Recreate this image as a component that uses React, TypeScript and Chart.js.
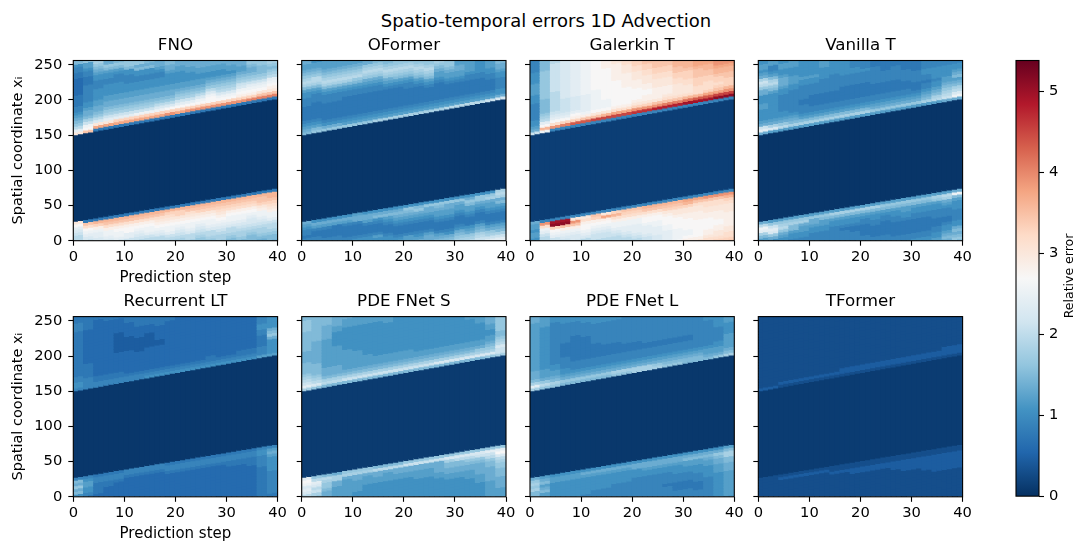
import React, { useEffect, useRef } from "react";
import { Chart, registerables } from "chart.js";

Chart.register(...registerables);

// Each string is read for two neighbouring prediction steps, from x=0 to x=40.
// Each character is a relative-error level in base 36, in units of LEVEL_STEP, one per CELL_HEIGHT.
// *_LOW ends at the lower wave edge, *_HIGH starts at the upper wave edge.
// *_CORE is the value inside the travelling wave, between the two edges.
const LEVEL_STEP = 0.15;
const CELL_HEIGHT = 4;
const Y_MAX = 256;
const X_MAX = 40;
const COLOR_MAX = 5.38;

// The wave edges read at each of the 40 prediction steps
const LOWER_EDGE = [27.6,28.8,30,31.2,32.4,33.6,34.8,36,37.2,38.4,39.6,40.8,42,43.2,44.4,45.6,46.8,48,49.2,50.4,51.6,52.8,54,55.2,56.4,57.6,58.8,60,61.2,62.4,63.6,64.8,66,67.2,68.4,69.6,70.8,72,73.2,74.4];
const UPPER_EDGE = [150.6,151.9,153.2,154.5,155.8,157.2,158.5,159.8,161.1,162.4,163.7,165,166.3,167.6,168.9,170.2,171.5,172.8,174.1,175.4,176.7,178,179.3,180.6,181.9,183.2,184.5,185.8,187.1,188.4,189.7,191,192.3,193.6,194.9,196.2,197.5,198.8,200.1,201.4];

const FNO_LOW = ["ddefgik","efghiln5","fgghjmo5","fghhjlno5","eghhijlno5","eggiijlno5","defghijlno5","deghhijlno5","ddfghijklno5","cdeghhijklmo5","cdefghijkmmo5","cddfghhijklno5","bcdefghijkmno5","bcddfghhijkmno5","bccdefghijklmno5","abcddfghhijlmno5","abccdefghhijlmno5","aabcdeffghijlmno5","9abccdefghhjkmnno5","9aabcddeghhjklmnoo5"];
const FNO_HIGH = ["kgdba98766555544444455667a","niheca9987766666655566788b","5pkfdba998877776667789abc","5pkgecba9988777766778ab9","5pmgecba9988777766678aba","5pmgecba998877766677abb","5pmhecba99887776677a9b","5pmhecba99887776677a9a","5pmhfdba9988777667899","5qmifdba99887777899a","5pmigecba98877778899","5qmigecba9887778899","5qmihfdba988778899","5qmiihfdba98778899","5qmihfdcba9877889","5qmihfdcba987889","5qmjihfecba98899","5rmjihgecba99ab","5rnkihgecbaaab","5rnkjihgdcbabc"];
const FNO_CORE = 0.04;

const OFORMER_LOW = ["6566789","66556897","65556897","665555897","6655556897","7655556998","77655568997","78655567a97","776555678a97","8765556789a97","8865556789ab7","98765556789ba7","998655567899b7","a98655567889ab7","ba976555678899b7","cba97655567889b7","dcb9875556788ab97","edca9865556789bb7","gecb98655567889cb7","hgeca986555678a9cdc"];
const OFORMER_HIGH = ["a987655555666778acdcba9889","ba87655555566678acddba9887","b97655555566678acdcba9888","b97655555566678acdcba988","b87655555556678acdcba988","b87655555556678abdcba98","b876555555566789bcdcb9","c876555555566789bcdcba","c87655555556789bcdcba","c8765555555678abcdcb","c8765555556678abcdcb","c876555555678abcdcb","c87655555678abcdcb","c87655555567889abc","d8765555567889abb","d876555556788998","d876555556678888","d87655555667777","e8765555667788","f977666677899a"];
const OFORMER_CORE = 0.06;

const GALERKIN_LOW = ["7887889","ddeghlq6","eghimyx6","efghjnyx6","effghjnqk6","dfghiijlk6","deefghijmn6","deefghijpk6","ddefghhjlom6","ddefgghhjlmn6","defggghhjlmn6","eefggghiijlno6","ffggghhiijlno6","gggghhiiijkmno6","ihhhhiiiijkkmno6","jihhiiiijjkkmop6","kjiiiiiijjjkklnp6","lkjjiiiijjkkllnq6","mlkkjjiijjjkkllnq6","nmllkkjjjjjkkklmoq6"];
const GALERKIN_HIGH = ["e9877666666777888877776666","hoigdcbaaaaabbbbbbbbbbaaaa","6qligfedddddddeeeeeeeeeed","6rmigfeeeeefffffffffffff","6tmjigfffffggggggggggggg","6tnjhgggggghhhhhhhhhhhh","6unkihhhhhhhiiiiiiiiii","6uokihhhiiiiiiiiiiijjj","6upljiiiiiiiiijjjjjjk","6upljiiiiiijjjjjkkkl","6vqmkjiiiijjjkkkllmm","6vqmkjjiijjkkkllmmn","6wqnkjjjjkkkllmmnn","6wrnlkjjjkkkllmmnn","6wrnlkkkkllmmnnoo","6xsolkkkllmmmnoo","6xtolllmmmnnnopp","6xtpmlllmmnnoop","6yupnmlmmnoopq","6yuqommmnnoopq"];
const GALERKIN_CORE = 0.14;

const VANILLA_LOW = ["8acghd9","79bfgeb8","789bdcb8","6778aacb8","6677889cb8","66677899b8","66667788ab8","66666778ac8","666656778ac8","6666556778ac8","6655556678ac8","66555566778ac8","66555556678ab8","665555566778ab8","6665555567788ab8","7665555566778ab8","77665555566778ab8","87766555666778bc8","9a9877655666789cd8","9ba9a97766667778ah9"];
const VANILLA_HIGH = ["9ge9877778877799bdec987887","8fc987777777778abdca876688","8db9877666666778999877887","8ca987666666667788877788","8ca876665566666778777777","8ca87665555666677877777","8ca8766555566666777788","8ca8766555566666677777","8ca876655555666677777","8ca87665555566667766","8ca87665555566667666","8b98766555566666655","8b9876655556666555","8b9876655556666655","8b987665556666555","8b98765556666555","8ca9876656677666","8dca98776777766","9edcba98877776","9hfdca98a98776"];
const VANILLA_CORE = 0.05;

const RECURRENT_LOW = ["7a9b9a6","56778876","45555665","444455665","4444445665","4444444566","44444444566","44444444566","444444444566","4444444445665","4444444445665","44444444445665","44444444445665","444444444445665","4444444444445665","4444444444455665","44444444444455665","44444444444555665","555555555556666776","5566666666777778986"];
const RECURRENT_HIGH = ["67766555555555555555566655","66665555544444444444455555","6655444444444444444444445","665544444444444444444445","665544444443333333444445","66544444444333334444455","6654444444333334444555","7654444444433333444555","765444444443344444555","76544444444444444445","76544444444444444444","7654444444444444444","765444444444444444","765544444444444444","76544444444444444","7654444444444444","7655444444444444","765544444444444","86665555667766","8777779ba97777"];
const RECURRENT_CORE = 0.07;

const FNET_S_LOW = ["dfgfhig","bcedfgdb","99abbcda","888899cc9","88888889cb","77888899cb","777778889cb","777778899da","7777778889da","77777778899da","77777778899eb","777777788899eb","777777788899eb","7777777889999eb","77777778899aacfb","77777778899aadfb","777777788899abdfb","777778889999abefb","88888899999aabdegb","88889999aaabbcdfigb"];
const FNET_S_HIGH = ["cgedcbaaaa9999aaaaaaabbbba","bfdcbaaaa99999999aaaaaaaaa","adca999888888888899999aaa","adca99988888887777788999","aeca98888888777777778889","aeca9888888777777777888","aeca988887777777777788","aeca988877777777777788","aeca98887777777777788","aeca9888777777777777","aeca9888777777777777","aeca988777777777777","aeca98877777777777","afca98877777777777","afca9887777777777","afca988777777777","afca988777777778","afcb98877777788","bfcba988778899","ceefdcbaabbbbb"];
const FNET_S_CORE = 0.11;

const FNET_L_LOW = ["aacbcb9","88a98a98","77777887","777777887","7777777887","6777777897","66677777897","66677777897","666667777897","6666667777897","6666666777997","66666666778997","66666666778997","666656666778997","6665556667778997","6665556667788a97","66655566677788a97","66666667777889a97","77777777788899ab97","7888888888999aacca8"];
const FNET_L_HIGH = ["cgca9998888888888888888899","bdb98887777777777777778888","bca9887766666666666666677","ab9877666655555666666677","ab9876665555555556666677","ab987666555555556666677","ab98766655555666666677","ab98766655556666666677","bc9876665555666666667","bc987666555666666666","cc987666555666666666","cc98766655666666666","cb9876665566666666","ba9876665566666666","ba987666556666666","aa98766655666666","aa98766666666666","a98876666666667","b9887766666777","ca988888777788"];
const FNET_L_CORE = 0.08;

const TFORMER_LOW = ["2222222","22222222","22222232","222222232","2222222232","2222222232","22222222232","22222222322","222222222322","2222222223322","2222222223322","22222222223322","22222222223322","222222222233322","2222222222333322","2222222222333322","22222222223333322","22222222233333322","222222222233333322","2222222222233333322"];
const TFORMER_HIGH = ["32222222222222222222222222","32222222222222222222222222","2322222222222222222222222","232222222222222222222222","232222222222222222222222","23222222222222222222222","2322222222222222222222","2322222222222222222222","233222222222222222222","23322222222222222222","23322222222222222222","2332222222222222222","233222222222222222","233222222222222222","23322222222222222","2332222222222222","2332222222222222","233222222222222","23332222222222","23332222222222"];
const TFORMER_CORE = 0.12;

const PANEL_TITLES = ["FNO", "OFormer", "Galerkin T", "Vanilla T", "Recurrent LT", "PDE FNet S", "PDE FNet L", "TFormer"];
const PANEL_LOWS = [FNO_LOW, OFORMER_LOW, GALERKIN_LOW, VANILLA_LOW, RECURRENT_LOW, FNET_S_LOW, FNET_L_LOW, TFORMER_LOW];
const PANEL_HIGHS = [FNO_HIGH, OFORMER_HIGH, GALERKIN_HIGH, VANILLA_HIGH, RECURRENT_HIGH, FNET_S_HIGH, FNET_L_HIGH, TFORMER_HIGH];
const PANEL_CORES = [FNO_CORE, OFORMER_CORE, GALERKIN_CORE, VANILLA_CORE, RECURRENT_CORE, FNET_S_CORE, FNET_L_CORE, TFORMER_CORE];

const FIGURE_TITLE = "Spatio-temporal errors 1D Advection";
const X_TITLE = "Prediction step";
const Y_TITLE = "Spatial coordinate xᵢ";
const COLORBAR_TITLE = "Relative error";

// RdBu reversed: anchor colours of the colour map
const RDBU_R: number[][] = [
  [5, 48, 97], [33, 102, 172], [67, 147, 195], [146, 197, 222], [209, 229, 240], [247, 247, 247],
  [253, 219, 199], [244, 165, 130], [214, 96, 77], [178, 24, 43], [103, 0, 31],
];

function colorOf(v: number): string {
  const p = Math.max(0, Math.min(0.99999, v / COLOR_MAX)) * (RDBU_R.length - 1);
  const i = Math.floor(p);
  const f = p - i;
  const a = RDBU_R[i];
  const b = RDBU_R[i + 1];
  const c = [0, 1, 2].map((k) => Math.round(a[k] + (b[k] - a[k]) * f));
  return `rgb(${c[0]},${c[1]},${c[2]})`;
}

const FONT = "'DejaVu Sans'";
const TICK_PX = 14.7;
const AXIS_TITLE_PX = 15;
const Y_TITLE_PX = 14.5;
const TITLE_PX = 16.7;
const AX_LEFT = [73.3, 301.7, 530, 758.3];
const AX_TOP = [60.5, 316.6];
const AX_W = 204.3;
const AX_H = 180.2;

const framePlugin = {
  id: "frame",
  afterDatasetsDraw(chart: any) {
    const { left, top, width, height } = chart.chartArea;
    const ctx = chart.ctx;
    ctx.save();
    ctx.strokeStyle = "#000";
    ctx.lineWidth = 1.1;
    ctx.strokeRect(left, top, width, height);
    ctx.restore();
  },
};

const colorbarLabelPlugin = {
  id: "colorbarLabel",
  afterDraw(chart: any) {
    const ctx = chart.ctx;
    ctx.save();
    ctx.translate(70, 236);
    ctx.rotate(-Math.PI / 2);
    ctx.fillStyle = "#000";
    ctx.font = `12.5px ${FONT}`;
    ctx.textAlign = "center";
    ctx.textBaseline = "middle";
    ctx.fillText(COLORBAR_TITLE, 0, 0);
    ctx.restore();
  },
};

function buildCells(low: string[], high: string[], core: number) {
  const cells: { x: number; y: number[] }[] = [];
  const colors: string[] = [];
  const add = (x: number, y0: number, y1: number, v: number) => {
    cells.push({ x, y: [y0, y1] });
    colors.push(colorOf(v));
  };
  LOWER_EDGE.forEach((edgeLow, step) => {
    const x = step + 0.5;
    const edgeHigh = UPPER_EDGE[step];
    const lo = low[Math.floor(step / 2)];
    const hi = high[Math.floor(step / 2)];
    [...lo].forEach((ch, i) => {
      const y1 = edgeLow - (lo.length - 1 - i) * CELL_HEIGHT;
      if (y1 <= 0) return;
      const y0 = i === 0 ? 0 : Math.max(0, y1 - CELL_HEIGHT);
      add(x, y0, y1, parseInt(ch, 36) * LEVEL_STEP);
    });
    add(x, edgeLow, edgeHigh, core);
    [...hi].forEach((ch, i) => {
      const y0 = edgeHigh + i * CELL_HEIGHT;
      if (y0 >= Y_MAX) return;
      const y1 = i === hi.length - 1 ? Y_MAX : Math.min(Y_MAX, y0 + CELL_HEIGHT);
      add(x, y0, y1, parseInt(ch, 36) * LEVEL_STEP);
    });
  });
  return { cells, colors };
}

function Panel({ index }: { index: number }) {
  const ref = useRef<HTMLCanvasElement | null>(null);
  const col = index % 4;
  const row = Math.floor(index / 4);
  const axL = AX_LEFT[col];
  const axT = AX_TOP[row];
  const canvasLeft = Math.floor(axL - 69.3);
  const canvasTop = Math.floor(axT - 26);
  const canvasW = 291;
  const canvasH = 253;
  useEffect(() => {
    const { cells, colors } = buildCells(PANEL_LOWS[index], PANEL_HIGHS[index], PANEL_CORES[index]);
    const yW = axL - canvasLeft;
    const titleH = axT - canvasTop;
    const xH = canvasH - titleH - AX_H;
    const tickGrid = { display: true, drawOnChartArea: false, drawTicks: true, tickLength: 5, tickColor: "#000", tickWidth: 1.1 };
    const chart = new Chart(ref.current as HTMLCanvasElement, {
      type: "bar",
      data: {
        datasets: [{
          label: PANEL_TITLES[index],
          data: cells as any,
          backgroundColor: colors,
          borderWidth: 0,
          inflateAmount: 0.5,
          barPercentage: 1,
          categoryPercentage: 1,
        } as any],
      },
      options: {
        responsive: false,
        animation: false,
        events: [],
        layout: { padding: { left: 0, top: 0, bottom: 0, right: canvasW - yW - AX_W } },
        plugins: {
          legend: { display: false },
          tooltip: { enabled: false },
          title: {
            display: true,
            text: PANEL_TITLES[index],
            fullSize: false,
            color: "#000",
            font: { family: FONT, size: TITLE_PX, weight: "normal", lineHeight: 1.2 },
            padding: { top: 1.5, bottom: titleH - TITLE_PX * 1.2 - 1.5 },
          },
        },
        scales: {
          x: {
            type: "linear",
            min: 0,
            max: X_MAX,
            offset: false,
            grid: { ...tickGrid, offset: false },
            border: { display: false },
            ticks: { stepSize: 10, autoSkip: false, maxRotation: 0, color: "#000", padding: 3, font: { family: FONT, size: TICK_PX } },
            title: {
              display: col === 0,
              text: X_TITLE,
              color: "#000",
              padding: { top: 0, bottom: 0 },
              font: { family: FONT, size: AXIS_TITLE_PX, lineHeight: 1.2 },
            },
            afterFit: (s: any) => { s.height = xH; },
          },
          y: {
            type: "linear",
            min: 0,
            max: Y_MAX,
            grid: tickGrid,
            border: { display: false },
            ticks: { display: col === 0, stepSize: 50, includeBounds: false, autoSkip: false, color: "#000", padding: 6, font: { family: FONT, size: TICK_PX } },
            title: {
              display: col === 0,
              text: Y_TITLE,
              color: "#000",
              padding: { top: 6, bottom: 0 },
              font: { family: FONT, size: Y_TITLE_PX, lineHeight: 1.2 },
            },
            afterFit: (s: any) => { s.width = yW; },
          },
        },
      } as any,
      plugins: [framePlugin],
    });
    return () => chart.destroy();
  }, []);
  return (
    <canvas
      ref={ref}
      width={canvasW}
      height={canvasH}
      style={{ position: "absolute", left: canvasLeft, top: canvasTop, width: canvasW, height: canvasH }}
    />
  );
}

function ColorBar() {
  const ref = useRef<HTMLCanvasElement | null>(null);
  useEffect(() => {
    const chart = new Chart(ref.current as HTMLCanvasElement, {
      type: "bar",
      data: {
        labels: [COLORBAR_TITLE],
        datasets: [{
          data: [[0, COLOR_MAX]] as any,
          borderWidth: 0,
          inflateAmount: 0.5,
          barPercentage: 1,
          categoryPercentage: 1,
          backgroundColor: (ctx: any) => {
            const area = ctx.chart.chartArea;
            if (!area) return "#fff";
            const g = ctx.chart.ctx.createLinearGradient(0, area.bottom, 0, area.top);
            RDBU_R.forEach((c, i) => g.addColorStop(i / (RDBU_R.length - 1), `rgb(${c[0]},${c[1]},${c[2]})`));
            return g;
          },
        } as any],
      },
      options: {
        responsive: false,
        animation: false,
        events: [],
        layout: { padding: { left: 16, right: 0, top: 20.5, bottom: 13.4 } },
        plugins: { legend: { display: false }, tooltip: { enabled: false }, title: { display: false } },
        scales: {
          x: { display: false },
          y: {
            position: "right",
            min: 0,
            max: COLOR_MAX,
            grid: { display: true, drawOnChartArea: false, drawTicks: true, tickLength: 5, tickColor: "#000", tickWidth: 1.1 },
            border: { display: false },
            ticks: { stepSize: 1, includeBounds: false, autoSkip: false, color: "#000", padding: 5, font: { family: FONT, size: TICK_PX } },
            afterFit: (s: any) => { s.width = 42; },
          },
        },
      } as any,
      plugins: [framePlugin, colorbarLabelPlugin],
    });
    return () => chart.destroy();
  }, []);
  return (
    <canvas
      ref={ref}
      width={81}
      height={470}
      style={{ position: "absolute", left: 1000, top: 40, width: 81, height: 470 }}
    />
  );
}

export default function App() {
  return (
    <div style={{ position: "absolute", left: 0, top: 0, width: 1081, height: 545, overflow: "hidden", background: "#fff" }}>
      {PANEL_TITLES.map((_, i) => <Panel key={i} index={i} />)}
      <ColorBar />
      <div style={{ position: "absolute", left: 0, width: 1092, top: 10, textAlign: "center", font: `18px ${FONT}`, color: "#000", whiteSpace: "nowrap" }}>
        {FIGURE_TITLE}
      </div>
    </div>
  );
}
